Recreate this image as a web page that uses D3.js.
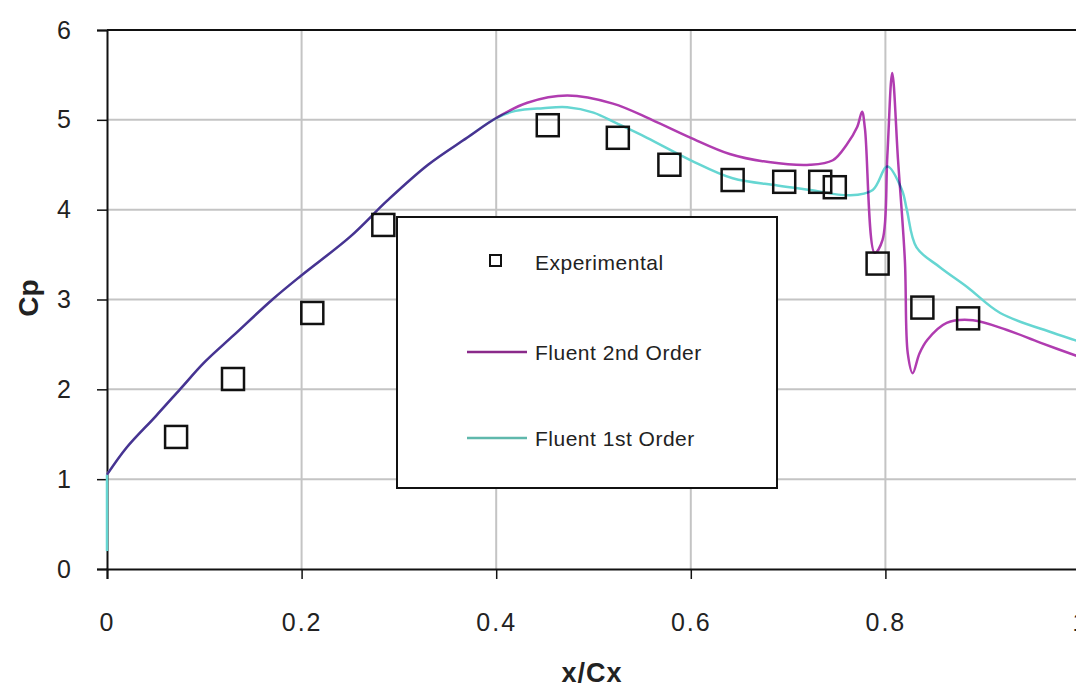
<!DOCTYPE html>
<html>
<head>
<meta charset="utf-8">
<script src="https://cdn.jsdelivr.net/npm/d3@7"></script>
<style>
  body { margin: 0; background: #fff; }
  svg { display: block; font-family: "Liberation Sans", Arial, sans-serif; }
</style>
</head>
<body>
<svg id="chart"></svg>
<script>
// experimental points
let expX  = [0.071, 0.1295, 0.211, 0.284, 0.453, 0.525, 0.578, 0.643, 0.696, 0.733, 0.748, 0.792, 0.838, 0.885];
let expCp = [1.47, 2.115, 2.85, 3.83, 4.94, 4.80, 4.50, 4.33, 4.31, 4.31, 4.25, 3.40, 2.91, 2.79];

// Fluent 2nd order
let o2X  = [0, 0.02, 0.05, 0.075, 0.1, 0.13, 0.17, 0.2, 0.25, 0.288, 0.33, 0.37, 0.4, 0.432, 0.473, 0.52, 0.56, 0.6, 0.64, 0.68, 0.7225, 0.746, 0.76, 0.771, 0.776, 0.779, 0.789, 0.797, 0.802, 0.807, 0.813, 0.82, 0.823, 0.828, 0.835, 0.843, 0.863, 0.89, 0.925, 0.959, 1.0];
let o2Cp = [1.05, 1.35, 1.7, 2.0, 2.3, 2.6, 3.0, 3.27, 3.7, 4.1, 4.5, 4.8, 5.02, 5.19, 5.27, 5.18, 5.0, 4.8, 4.62, 4.53, 4.50, 4.55, 4.72, 4.92, 5.09, 4.9, 3.52, 3.66, 4.6, 5.52, 4.55, 3.44, 2.40, 2.18, 2.40, 2.55, 2.74, 2.77, 2.66, 2.52, 2.36];

// Fluent 1st order (starts with a vertical run at x = 0)
let o1X  = [0, 0, 0.02, 0.05, 0.075, 0.1, 0.13, 0.17, 0.2, 0.25, 0.288, 0.33, 0.37, 0.4, 0.42, 0.448, 0.473, 0.5, 0.524, 0.555, 0.6, 0.643, 0.689, 0.7225, 0.764, 0.787, 0.802, 0.817, 0.822, 0.832, 0.856, 0.884, 0.918, 0.972, 1.0];
let o1Cp = [0.2, 1.05, 1.35, 1.7, 2.0, 2.3, 2.6, 3.0, 3.27, 3.7, 4.1, 4.5, 4.8, 5.02, 5.1, 5.13, 5.14, 5.08, 4.96, 4.80, 4.55, 4.35, 4.27, 4.22, 4.16, 4.22, 4.48, 4.22, 4.0, 3.58, 3.36, 3.14, 2.85, 2.63, 2.53];

let xTicks = [0, 0.2, 0.4, 0.6, 0.8, 1];
let yTicks = [0, 1, 2, 3, 4, 5, 6];
let legendNames = ["Experimental", "Fluent 2nd Order", "Fluent 1st Order"];

let width = 1076, height = 690;
let col2 = "#b03cb0", col1 = "#66d6d2";

let svg = d3.select("#chart").attr("width", width).attr("height", height);
svg.append("rect").attr("width", width).attr("height", height).attr("fill", "#fff");

let x = d3.scaleLinear().domain([0, 1]).range([107, 1080]);
let y = d3.scaleLinear().domain([0, 6]).range([569, 30]);

// grid
svg.append("g").selectAll("line").data(xTicks.slice(1)).enter().append("line")
  .attr("x1", d => x(d)).attr("x2", d => x(d)).attr("y1", y(6)).attr("y2", y(0))
  .attr("stroke", "#c4c4c4").attr("stroke-width", 2);
svg.append("g").selectAll("line").data(yTicks.slice(1, -1)).enter().append("line")
  .attr("x1", x(0)).attr("x2", width).attr("y1", d => y(d)).attr("y2", d => y(d))
  .attr("stroke", "#c4c4c4").attr("stroke-width", 2);

// top border
svg.append("line").attr("x1", x(0)).attr("x2", width).attr("y1", y(6)).attr("y2", y(6))
  .attr("stroke", "#111").attr("stroke-width", 2);

// axes
let xAxis = svg.append("g").attr("transform", `translate(0,${y(0)})`)
  .call(d3.axisBottom(x).tickValues(xTicks).tickSize(10).tickPadding(34).tickFormat(d3.format("~g")));
let yAxis = svg.append("g").attr("transform", `translate(${x(0)},0)`)
  .call(d3.axisLeft(y).tickValues(yTicks).tickSize(10).tickPadding(24).tickFormat(d3.format("d")));
[xAxis, yAxis].forEach(a => {
  a.select(".domain").attr("stroke", "#111").attr("stroke-width", 2);
  a.selectAll(".tick line").attr("stroke", "#111").attr("stroke-width", 1.5);
  a.selectAll("text").attr("font-size", 25).attr("fill", "#222").attr("letter-spacing", 2)
    .attr("font-family", "'Liberation Sans', Arial, sans-serif");
});

// lines
let line = d3.line().x(d => x(d[0])).y(d => y(d[1])).curve(d3.curveCatmullRom.alpha(0.5));
let straight = d3.line().x(d => x(d[0])).y(d => y(d[1]));
let o1 = d3.zip(o1X, o1Cp);
let plot = svg.append("g").style("isolation", "isolate");
plot.append("path").datum(o1.slice(0, 2)).attr("d", straight)
  .attr("fill", "none").attr("stroke", col1).attr("stroke-width", 2.5);
plot.append("path").datum(o1.slice(1)).attr("d", line)
  .attr("fill", "none").attr("stroke", col1).attr("stroke-width", 2.5);
plot.append("path").datum(d3.zip(o2X, o2Cp)).attr("d", line)
  .attr("fill", "none").attr("stroke", col2).attr("stroke-width", 2.5)
  .style("mix-blend-mode", "multiply");

// experimental squares
svg.append("g").selectAll("rect").data(d3.zip(expX, expCp)).enter().append("rect")
  .attr("x", d => x(d[0]) - 11).attr("y", d => y(d[1]) - 11)
  .attr("width", 22).attr("height", 22)
  .attr("fill", "none").attr("stroke", "#111").attr("stroke-width", 2.5);

// legend
let lg = svg.append("g");
lg.append("rect").attr("x", 397).attr("y", 217).attr("width", 380).attr("height", 271)
  .attr("fill", "#fff").attr("stroke", "#111").attr("stroke-width", 2);
lg.append("rect").attr("x", 490).attr("y", 255).attr("width", 11).attr("height", 11)
  .attr("fill", "none").attr("stroke", "#111").attr("stroke-width", 2);
lg.append("line").attr("x1", 467).attr("x2", 527).attr("y1", 352).attr("y2", 352)
  .attr("stroke", "#8a2a8a").attr("stroke-width", 2.5);
lg.append("line").attr("x1", 467).attr("x2", 527).attr("y1", 438).attr("y2", 438)
  .attr("stroke", "#5fb8ac").attr("stroke-width", 2.5);
lg.selectAll("text").data(legendNames).enter().append("text")
  .attr("x", 535).attr("y", (d, i) => [270, 360, 446][i])
  .attr("font-size", 21).attr("fill", "#222").attr("letter-spacing", 0.5)
  .text(d => d);

// axis titles
svg.append("text").attr("x", 592).attr("y", 682).attr("text-anchor", "middle")
  .attr("font-size", 27).attr("font-weight", "bold").attr("fill", "#222").attr("letter-spacing", 1)
  .text("x/Cx");
svg.append("text").attr("transform", "translate(38,298) rotate(-90)").attr("text-anchor", "middle")
  .attr("font-size", 28).attr("font-weight", "bold").attr("fill", "#222")
  .text("Cp");
</script>
</body>
</html>
